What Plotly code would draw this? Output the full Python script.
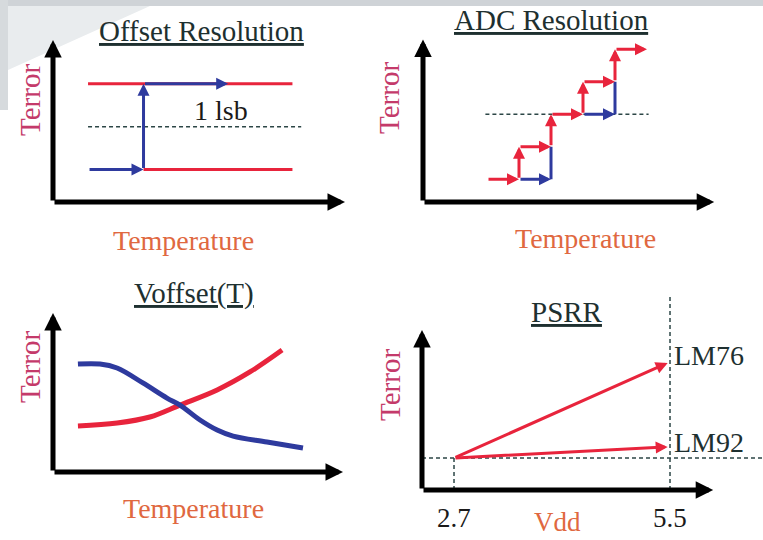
import plotly.graph_objects as go

W, H = 763, 540

# ---------------- data ----------------
# Panel 1: Offset Resolution (Temperature units 0..10, Terror units 0..10)
off_levels = [2.0, 7.3]          # lower / upper Terror level
off_mid = 4.65                   # dashed mid level
off_x = [1.2, 3.1, 6.0, 8.2]     # start, switch, blue end, end
off_dash_end = 8.5

# Panel 2: ADC Resolution staircase
adc_x = [2, 3, 4, 5, 6, 7]
adc_y = [0.7, 1.7, 2.7, 3.7, 4.7]
adc_dash = [1.95, 7.05]

# Panel 3: Voffset(T) curves
vo_blue_x = [0.86, 1.62, 2.21, 3.10, 3.93, 4.38, 5.07, 5.66, 6.21, 7.38, 8.62]
vo_blue_y = [6.79, 6.79, 6.54, 5.60, 4.65, 4.21, 3.27, 2.64, 2.26, 1.89, 1.51]
vo_red_x = [0.86, 2.21, 3.34, 4.38, 5.66, 6.79, 7.90]
vo_red_y = [2.89, 3.08, 3.46, 4.21, 5.16, 6.29, 7.67]

# Panel 4: PSRR
vdd = [2.7, 5.5]
vdd_ticks = ["2.7", "5.5"]
vdd_axis = [2.285, 6.06]
psrr_base = 2.0
psrr_end_x = 5.47
psrr_lm76 = 7.94
psrr_lm92 = 2.69
psrr_names = ["LM76", "LM92"]

RED = "#e8243c"
BLUE = "#2e3a9e"
DASH = "#2c4646"
TITLE = "#1e3030"
TERR = "#c43a6a"
TEMP = "#e06840"
FONT = "Liberation Serif"

fig = go.Figure()

# ---------------- axes helper ----------------
def make_axes(idx, origin_px, origin_data, unit, box):
    ox, oy = origin_px
    dx, dy = origin_data
    ux, uy = unit
    x0, x1, ytop, ybot = box
    xrng = [dx + (x0 - ox) / ux, dx + (x1 - ox) / ux]
    yrng = [dy + (oy - ybot) / uy, dy + (oy - ytop) / uy]
    s = "" if idx == 1 else str(idx)
    common = dict(visible=False, fixedrange=True)
    fig.layout["xaxis" + s] = dict(domain=[x0 / W, x1 / W], range=xrng, anchor="y" + s, **common)
    fig.layout["yaxis" + s] = dict(domain=[1 - ybot / H, 1 - ytop / H], range=yrng, anchor="x" + s, **common)

make_axes(1, (53, 202), (0, 0), (29.2, 16.2), (40, 360, 30, 215))
make_axes(2, (423, 202), (0, 0), (32.0, 32.5), (410, 725, 30, 215))
make_axes(3, (53, 472), (0, 0), (29.0, 15.9), (40, 360, 300, 485))
make_axes(4, (422, 490), (vdd_axis[0], 0), (77.14, 16.0), (414, 763, 288, 500))

def xr(i):
    return "x" if i == 1 else "x%d" % i

def yr(i):
    return "y" if i == 1 else "y%d" % i

def line(i, xs, ys, color, width, dash=None, shape="linear"):
    fig.add_trace(go.Scatter(x=xs, y=ys, mode="lines", xaxis=xr(i), yaxis=yr(i),
                             line=dict(color=color, width=width, dash=dash, shape=shape),
                             hoverinfo="skip", showlegend=False))

annots = []

def arrow(i, x0, y0, x1, y1, color, width, size):
    annots.append(dict(x=x1, y=y1, ax=x0, ay=y0, xref=xr(i), yref=yr(i),
                       axref=xr(i), ayref=yr(i), text="", showarrow=True,
                       arrowhead=2, arrowsize=size, arrowwidth=width,
                       arrowcolor=color, standoff=0, startstandoff=0))

def text(px, py, s, color, size, angle=0, xanchor="center"):
    annots.append(dict(x=px / W, y=1 - py / H, xref="paper", yref="paper", text=s,
                       showarrow=False, textangle=angle, xanchor=xanchor, yanchor="middle",
                       font=dict(family=FONT, size=size, color=color)))

# ---------------- Panel 1 ----------------
line(1, [off_x[0], off_dash_end], [off_mid, off_mid], DASH, 1.5, dash="4px,3px")
line(1, [off_x[0], off_x[3]], [off_levels[1], off_levels[1]], RED, 3)
line(1, [off_x[1], off_x[3]], [off_levels[0], off_levels[0]], RED, 3)
arrow(1, off_x[0], off_levels[0], off_x[1], off_levels[0], BLUE, 3, 0.8)
arrow(1, off_x[1], off_levels[0], off_x[1], off_levels[1], BLUE, 3, 0.8)
arrow(1, off_x[1], off_levels[1], off_x[2], off_levels[1], BLUE, 3, 0.8)
arrow(1, 0, 0, 10, 0, "black", 5, 0.7)
arrow(1, 0, 0, 0, 10, "black", 5, 0.7)

# ---------------- Panel 2 ----------------
line(2, adc_dash, [adc_y[2], adc_y[2]], DASH, 1.5, dash="4px,3px")
arrow(2, adc_x[1], adc_y[0], adc_x[2], adc_y[0], BLUE, 3, 0.8)
line(2, [adc_x[2], adc_x[2]], [adc_y[0], adc_y[1]], BLUE, 3)
arrow(2, adc_x[3], adc_y[2], adc_x[4], adc_y[2], BLUE, 3, 0.8)
line(2, [adc_x[4], adc_x[4]], [adc_y[2], adc_y[3]], BLUE, 3)
arrow(2, adc_x[0], adc_y[0], adc_x[1], adc_y[0], RED, 3, 0.8)
for k in range(1, 5):
    arrow(2, adc_x[k], adc_y[k - 1], adc_x[k], adc_y[k], RED, 3, 0.8)
    arrow(2, adc_x[k], adc_y[k], adc_x[k + 1], adc_y[k], RED, 3, 0.8)
arrow(2, 0, 0, 9.1, 0, "black", 5, 0.7)
arrow(2, 0, 0, 0, 5.0, "black", 5, 0.7)

# ---------------- Panel 3 ----------------
line(3, vo_red_x, vo_red_y, RED, 5, shape="spline")
line(3, vo_blue_x, vo_blue_y, BLUE, 5, shape="spline")
arrow(3, 0, 0, 10, 0, "black", 5, 0.7)
arrow(3, 0, 0, 0, 10, "black", 5, 0.7)

# ---------------- Panel 4 ----------------
line(4, [vdd_axis[0], 6.71], [psrr_base, psrr_base], DASH, 1.5, dash="4px,3px")
line(4, [vdd[1], vdd[1]], [0, 12.2], DASH, 1.5, dash="4px,3px")
line(4, [vdd[0], vdd[0]], [0, psrr_base], DASH, 1.5, dash="4px,3px")
arrow(4, vdd[0], psrr_base, psrr_end_x, psrr_lm76, RED, 3, 0.8)
arrow(4, vdd[0], psrr_base, psrr_end_x, psrr_lm92, RED, 3, 0.8)
arrow(4, vdd_axis[0], 0, vdd_axis[1], 0, "black", 5, 0.7)
arrow(4, vdd_axis[0], 0, vdd_axis[0], 10, "black", 5, 0.7)

# ---------------- text ----------------
text(201, 31, "<u>Offset Resolution</u>", TITLE, 29)
text(551, 20, "<u>ADC Resolution</u>", TITLE, 29)
text(194, 293, "<u>Voffset(T)</u>", TITLE, 29)
text(567, 312, "<u>PSRR</u>", TITLE, 29)

text(30, 100, "Terror", TERR, 29, angle=-90)
text(389, 98, "Terror", TERR, 29, angle=-90)
text(30, 367, "Terror", TERR, 29, angle=-90)
text(390, 385, "Terror", TERR, 29, angle=-90)

text(183, 240, "Temperature", TEMP, 28)
text(585, 238, "Temperature", TEMP, 28)
text(193, 508, "Temperature", TEMP, 28)
text(557, 522, "Vdd", TEMP, 27)

text(221, 110, "1 lsb", "#1a1a1a", 28)
text(454, 518, vdd_ticks[0], "#1a1a1a", 27)
text(670, 518, vdd_ticks[1], "#1a1a1a", 27)
text(672, 355, psrr_names[0], TITLE, 28, xanchor="left")
text(672, 442, psrr_names[1], TITLE, 28, xanchor="left")

# background decoration (slide frame)
shapes = [
    dict(type="rect", xref="paper", yref="paper", x0=0, x1=1, y0=1 - 6 / H, y1=1,
         fillcolor="#cfd3d7", line_width=0, layer="below"),
    dict(type="path", xref="paper", yref="paper",
         path="M 0 %f L %f %f L %f %f L 0 %f Z" % (1 - 6 / H, 150 / W, 1 - 6 / H, 8 / W, 1 - 70 / H, 1 - 110 / H),
         fillcolor="#e9ecee", line_width=0, layer="below"),
    dict(type="rect", xref="paper", yref="paper", x0=0, x1=8 / W, y0=1 - 110 / H, y1=1,
         fillcolor="#d6dadd", line_width=0, layer="below"),
]

fig.update_layout(width=W, height=H, margin=dict(l=0, r=0, t=0, b=0),
                  paper_bgcolor="white", plot_bgcolor="rgba(0,0,0,0)",
                  font=dict(family=FONT),
                  annotations=annots, shapes=shapes, showlegend=False)

fig.write_html("out.html", config={"displayModeBar": False},
               post_script="document.body.style.margin='0';")
